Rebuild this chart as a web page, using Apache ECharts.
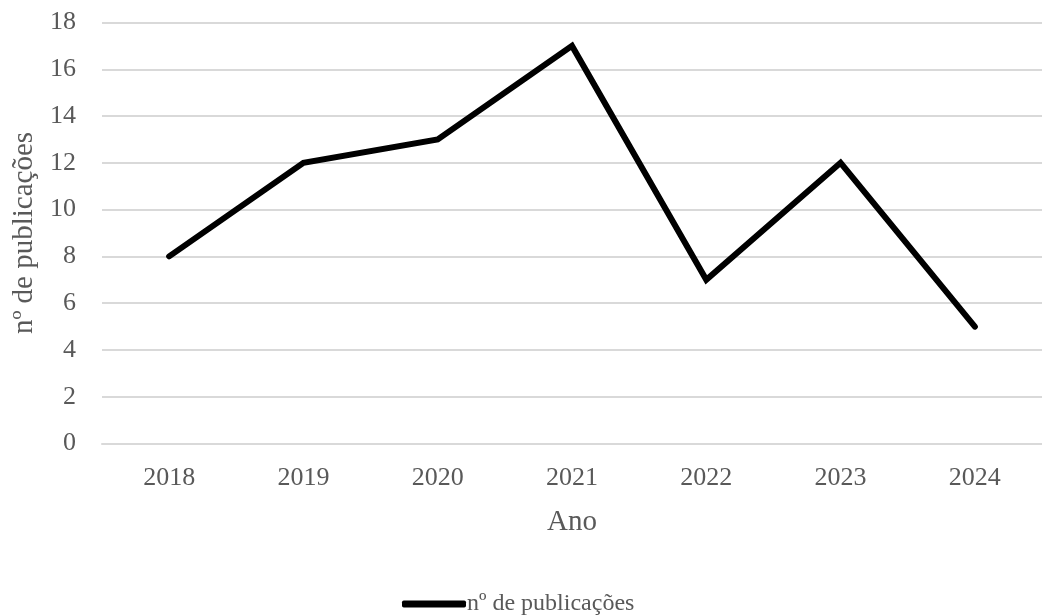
<!DOCTYPE html>
<html>
<head>
<meta charset="utf-8">
<script src="https://cdn.jsdelivr.net/npm/echarts@6/dist/echarts.min.js"></script>
<style>
  html, body { margin: 0; padding: 0; background: #fff; }
  #chart { width: 1042px; height: 615px; }
</style>
</head>
<body>
<div id="chart"></div>
<script>
// Publications per year
const years = ['2018', '2019', '2020', '2021', '2022', '2023', '2024'];
const publications = [8, 12, 13, 17, 7, 12, 5];
const seriesName = 'nº de publicações';
const xTitle = 'Ano';
const yTitle = 'nº de publicações';

const FONT = '"Liberation Serif", "Times New Roman", serif';
const TEXT = '#595959';

const chart = echarts.init(document.getElementById('chart'), null, { renderer: 'canvas' });
chart.setOption({
  animation: false,
  backgroundColor: '#ffffff',
  grid: { left: 102, top: 22.5, width: 945, height: 421, containLabel: false },
  legend: {
    data: [seriesName],
    bottom: -6,
    left: 397,
    itemWidth: 64,
    itemHeight: 7,
    itemGap: 10,
    icon: 'roundRect',
    textStyle: { fontFamily: FONT, fontSize: 24, color: TEXT, padding: [0, 0, 0, -4] }
  },
  xAxis: {
    type: 'category',
    data: years,
    boundaryGap: true,
    name: xTitle,
    nameLocation: 'middle',
    nameGap: 64,
    nameTextStyle: { fontFamily: FONT, fontSize: 29, color: TEXT },
    axisLine: { show: true, lineStyle: { color: '#d9d9d9', width: 2 } },
    axisTick: { show: false },
    axisLabel: { fontFamily: FONT, fontSize: 26, color: TEXT, margin: 22 }
  },
  yAxis: {
    type: 'value',
    min: 0,
    max: 18,
    interval: 2,
    name: yTitle,
    nameLocation: 'middle',
    nameGap: 58,
    nameTextStyle: { fontFamily: FONT, fontSize: 29, color: TEXT },
    axisLine: { show: false },
    axisTick: { show: false },
    axisLabel: { fontFamily: FONT, fontSize: 26, color: TEXT, margin: 26 },
    splitLine: { lineStyle: { color: '#d9d9d9', width: 2 } }
  },
  series: [{
    name: seriesName,
    type: 'line',
    data: publications,
    symbol: 'none',
    lineStyle: { color: '#000000', width: 6, join: 'miter', cap: 'round' },
    itemStyle: { color: '#000000' }
  }]
});
</script>
</body>
</html>
